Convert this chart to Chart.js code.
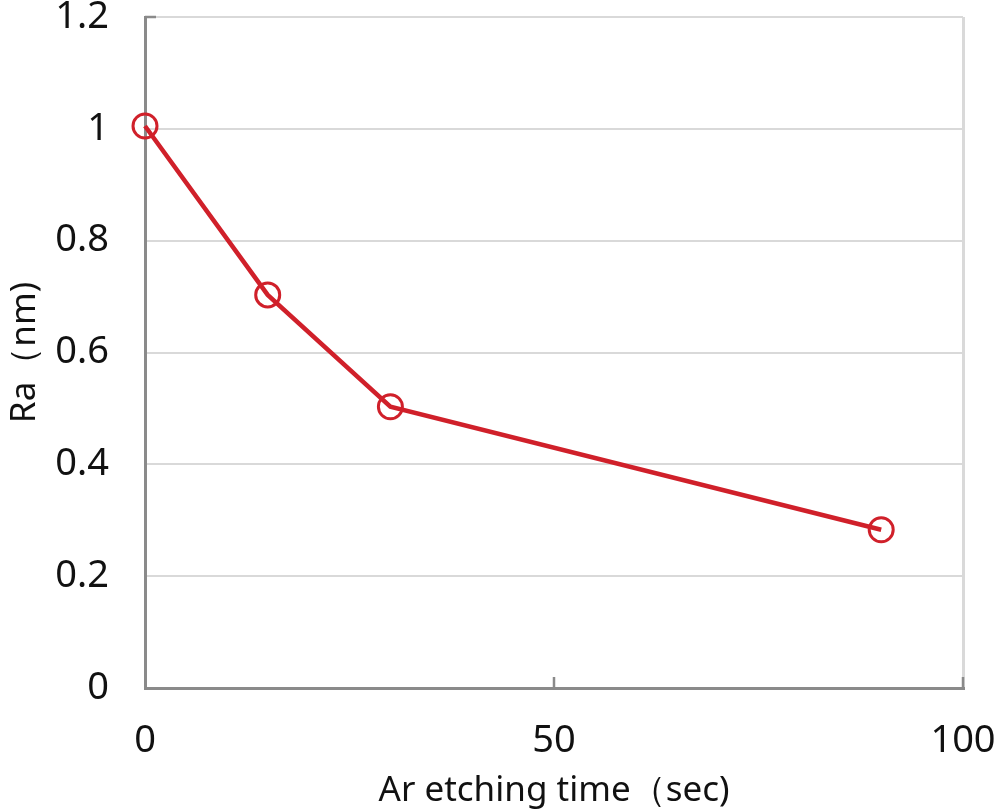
<!DOCTYPE html>
<html>
<head>
<meta charset="utf-8">
<script src="https://cdn.jsdelivr.net/npm/chart.js@4"></script>
<style>
  html, body { margin: 0; padding: 0; background: #fff; }
  #wrap { width: 995px; height: 812px; }
</style>
</head>
<body>
<div id="wrap"><canvas id="chart" width="995" height="812"></canvas></div>
<script>
// Ar etching time (sec) vs Ra (nm)
const etchTimes = [0, 15, 30, 90];
const raValues = [1.005, 0.703, 0.503, 0.283];
const xTicks = [0, 50, 100];
const yTicks = [0, 0.2, 0.4, 0.6, 0.8, 1, 1.2];

const RED = "#d0202a";
const AXIS = "#8a8a8a";
const GRID = "#d9d9d9";
const FONT = "'Noto Sans', 'DejaVu Sans', sans-serif";

// small inward tick marks, like the original spreadsheet chart
const innerTicks = {
    id: "innerTicks",
    afterDraw(chart) {
        const { ctx, scales } = chart;
        const x = scales.x, y = scales.y;
        ctx.save();
        ctx.strokeStyle = AXIS;
        ctx.lineWidth = 2.5;
        ctx.beginPath();
        xTicks.slice(1).forEach((v) => {
            const px = x.getPixelForValue(v);
            ctx.moveTo(px, y.bottom);
            ctx.lineTo(px, y.bottom - 11);
        });
        const top = y.getPixelForValue(1.2);
        ctx.moveTo(x.left, top);
        ctx.lineTo(x.left + 11, top);
        ctx.stroke();
        ctx.restore();
    },
};

new Chart(document.getElementById("chart"), {
    type: "line",
    data: {
        datasets: [
            {
                data: etchTimes.map((t, i) => ({ x: t, y: raValues[i] })),
                borderColor: RED,
                borderWidth: 4.5,
                pointStyle: "circle",
                pointRadius: 12,
                pointBorderWidth: 3,
                pointBorderColor: RED,
                pointBackgroundColor: "rgba(0,0,0,0)",
                tension: 0,
                clip: false,
            },
        ],
    },
    options: {
        responsive: false,
        animation: false,
        layout: { padding: { top: 17, right: 32, left: 0, bottom: 0 } },
        plugins: { legend: { display: false }, tooltip: { enabled: false } },
        scales: {
            x: {
                type: "linear",
                min: 0,
                max: 100,
                afterBuildTicks: (s) => { s.ticks = xTicks.map((v) => ({ value: v })); },
                afterFit: (s) => {
                    s.height = 124;
                    s.paddingLeft = 0;
                    s.paddingRight = 0;
                },
                border: { color: AXIS, width: 3 },
                grid: {
                    drawTicks: false,
                    color: (c) => (c.tick && c.tick.value === 100 ? GRID : "rgba(0,0,0,0)"),
                    lineWidth: 3,
                },
                ticks: { padding: 30, color: "#111", font: { family: FONT, size: 38 } },
                title: {
                    display: true,
                    text: "Ar etching time（sec)",
                    color: "#111",
                    font: { family: FONT, size: 35 },
                    padding: { top: 4, bottom: 0 },
                },
            },
            y: {
                min: 0,
                max: 1.2,
                afterBuildTicks: (s) => { s.ticks = yTicks.map((v) => ({ value: v })); },
                afterFit: (s) => {
                    s.width = 145;
                    s.paddingTop = 0;
                    s.paddingBottom = 0;
                },
                border: { color: AXIS, width: 3 },
                grid: { drawTicks: false, color: GRID, lineWidth: 2 },
                ticks: {
                    padding: 36,
                    color: "#111",
                    font: { family: FONT, size: 38 },
                    callback: (v) => String(Math.round(v * 10) / 10),
                },
                title: {
                    display: true,
                    text: "Ra（nm)",
                    color: "#111",
                    font: { family: FONT, size: 35 },
                    padding: { bottom: 2 },
                },
            },
        },
    },
    plugins: [innerTicks],
});
</script>
</body>
</html>
